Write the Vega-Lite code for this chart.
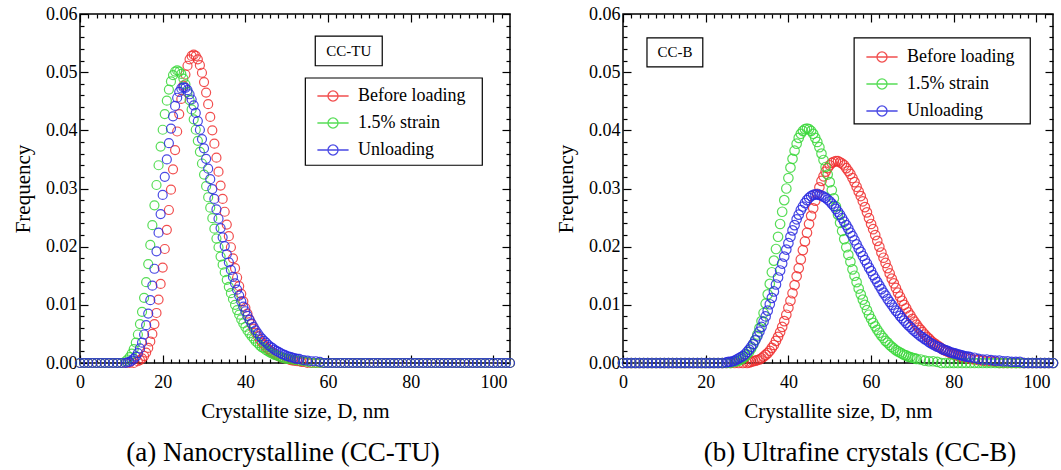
{
"$schema": "https://vega.github.io/schema/vega-lite/v6.json",
"padding": {"left": 11, "top": 4, "right": 0, "bottom": 0},
"spacing": 113,
"bounds": "flush",
"config": {
 "font": "Liberation Serif",
 "view": {"stroke": "black", "strokeWidth": 1.5},
 "axis": {"labelFont": "Liberation Serif", "titleFont": "Liberation Serif", "tickColor": "black", "labelColor": "black", "titleColor": "black", "domain": false, "grid": false},
 "legend": {"strokeColor": null, "padding": 0, "labelFont": "Liberation Serif", "labelFontSize": 18, "labelColor": "black", "symbolType": "M-1.3,0H1.3M0.42,0A0.42,0.42,0,1,1,-0.42,0A0.42,0.42,0,1,1,0.42,0", "symbolSize": 576, "symbolStrokeWidth": 1.3, "labelOffset": 12, "rowPadding": 5},
 "title": {"font": "Liberation Serif", "fontSize": 27, "fontWeight": "normal", "color": "black"}
},
"datasets": {
"a_r": [{"x":0,"y":0},{"x":1,"y":0},{"x":2,"y":0},{"x":3,"y":0},{"x":4,"y":0},{"x":5,"y":0},{"x":6,"y":0},{"x":7,"y":0},{"x":8,"y":0},{"x":9,"y":0},{"x":10,"y":0},{"x":11,"y":0},{"x":12,"y":0},{"x":13,"y":0},
{"x":14,"y":0.0003},{"x":14.5,"y":0.0005},{"x":15,"y":0.0008},{"x":15.5,"y":0.0012},{"x":16,"y":0.0018},{"x":16.5,"y":0.0026},{"x":17,"y":0.0037},{"x":17.5,"y":0.0050},{"x":18,"y":0.0067},{"x":18.5,"y":0.0086},{"x":19,"y":0.0109},{"x":19.5,"y":0.0136},{"x":20,"y":0.0164},{"x":20.5,"y":0.0196},{"x":21,"y":0.0229},{"x":21.5,"y":0.0263},{"x":22,"y":0.0298},{"x":22.5,"y":0.0333},{"x":23,"y":0.0366},{"x":23.5,"y":0.0398},{"x":24,"y":0.0428},{"x":24.5,"y":0.0454},{"x":25,"y":0.0477},{"x":25.5,"y":0.0496},{"x":26,"y":0.0511},{"x":26.5,"y":0.0522},{"x":27,"y":0.0528},{"x":27.5,"y":0.0530},{"x":28,"y":0.0528},{"x":28.5,"y":0.0522},{"x":29,"y":0.0512},{"x":29.5,"y":0.0499},{"x":30,"y":0.0483},{"x":30.5,"y":0.0465},{"x":31,"y":0.0445},{"x":31.5,"y":0.0423},{"x":32,"y":0.0400},{"x":32.5,"y":0.0377},{"x":33,"y":0.0353},{"x":33.5,"y":0.0329},{"x":34,"y":0.0305},{"x":34.5,"y":0.0282},{"x":35,"y":0.0260},{"x":35.5,"y":0.0238},{"x":36,"y":0.0218},{"x":36.5,"y":0.0199},{"x":37,"y":0.0180},{"x":37.5,"y":0.0163},{"x":38,"y":0.0147},{"x":38.5,"y":0.0132},{"x":39,"y":0.0119},{"x":39.5,"y":0.0106},{"x":40,"y":0.0095},{"x":40.5,"y":0.0085},{"x":41,"y":0.0075},{"x":41.5,"y":0.0067},{"x":42,"y":0.0059},{"x":42.5,"y":0.0052},{"x":43,"y":0.0046},{"x":43.5,"y":0.0040},{"x":44,"y":0.0035},{"x":44.5,"y":0.0031},{"x":45,"y":0.0027},{"x":45.5,"y":0.0024},{"x":46,"y":0.0021},{"x":46.5,"y":0.0018},{"x":47,"y":0.0016},{"x":47.5,"y":0.0014},{"x":48,"y":0.0012},{"x":48.5,"y":0.0010},{"x":49,"y":0.0009},{"x":49.5,"y":0.0008},{"x":50,"y":0.0007},{"x":50.5,"y":0.0006},{"x":51,"y":0.0005},{"x":51.5,"y":0.0004},{"x":52,"y":0.0004},{"x":52.5,"y":0.0003},{"x":53,"y":0.0003},{"x":53.5,"y":0.0002},{"x":54,"y":0.0002},
{"x":55,"y":0},{"x":56,"y":0},{"x":57,"y":0},{"x":58,"y":0},{"x":59,"y":0},{"x":60,"y":0},{"x":61,"y":0},{"x":62,"y":0},{"x":63,"y":0},{"x":64,"y":0},{"x":65,"y":0},{"x":66,"y":0},{"x":67,"y":0},{"x":68,"y":0},{"x":69,"y":0},{"x":70,"y":0},{"x":71,"y":0},{"x":72,"y":0},{"x":73,"y":0},{"x":74,"y":0},{"x":75,"y":0},{"x":76,"y":0},{"x":77,"y":0},{"x":78,"y":0},{"x":79,"y":0},{"x":80,"y":0},{"x":81,"y":0},{"x":82,"y":0},{"x":83,"y":0},{"x":84,"y":0},{"x":85,"y":0},{"x":86,"y":0},{"x":87,"y":0},{"x":88,"y":0},{"x":89,"y":0},{"x":90,"y":0},{"x":91,"y":0},{"x":92,"y":0},{"x":93,"y":0},{"x":94,"y":0},{"x":95,"y":0},{"x":96,"y":0},{"x":97,"y":0},{"x":98,"y":0},{"x":99,"y":0},{"x":100,"y":0},{"x":101,"y":0},{"x":102,"y":0},{"x":103,"y":0},{"x":104,"y":0}],
"a_g": [{"x":0,"y":0},{"x":1,"y":0},{"x":2,"y":0},{"x":3,"y":0},{"x":4,"y":0},{"x":5,"y":0},{"x":6,"y":0},{"x":7,"y":0},{"x":8,"y":0},{"x":9,"y":0},{"x":10,"y":0},
{"x":11,"y":0.0003},{"x":11.5,"y":0.0006},{"x":12,"y":0.0010},{"x":12.5,"y":0.0016},{"x":13,"y":0.0024},{"x":13.5,"y":0.0035},{"x":14,"y":0.0049},{"x":14.5,"y":0.0067},{"x":15,"y":0.0088},{"x":15.5,"y":0.0112},{"x":16,"y":0.0139},{"x":16.5,"y":0.0170},{"x":17,"y":0.0203},{"x":17.5,"y":0.0237},{"x":18,"y":0.0271},{"x":18.5,"y":0.0306},{"x":19,"y":0.0340},{"x":19.5,"y":0.0372},{"x":20,"y":0.0401},{"x":20.5,"y":0.0428},{"x":21,"y":0.0451},{"x":21.5,"y":0.0470},{"x":22,"y":0.0484},{"x":22.5,"y":0.0495},{"x":23,"y":0.0501},{"x":23.5,"y":0.0503},{"x":24,"y":0.0501},{"x":24.5,"y":0.0497},{"x":25,"y":0.0489},{"x":25.5,"y":0.0479},{"x":26,"y":0.0466},{"x":26.5,"y":0.0452},{"x":27,"y":0.0436},{"x":27.5,"y":0.0419},{"x":28,"y":0.0401},{"x":28.5,"y":0.0382},{"x":29,"y":0.0363},{"x":29.5,"y":0.0343},{"x":30,"y":0.0324},{"x":30.5,"y":0.0304},{"x":31,"y":0.0285},{"x":31.5,"y":0.0267},{"x":32,"y":0.0249},{"x":32.5,"y":0.0231},{"x":33,"y":0.0214},{"x":33.5,"y":0.0199},{"x":34,"y":0.0183},{"x":34.5,"y":0.0169},{"x":35,"y":0.0156},{"x":35.5,"y":0.0143},{"x":36,"y":0.0131},{"x":36.5,"y":0.0120},{"x":37,"y":0.0110},{"x":37.5,"y":0.0100},{"x":38,"y":0.0091},{"x":38.5,"y":0.0083},{"x":39,"y":0.0075},{"x":39.5,"y":0.0068},{"x":40,"y":0.0062},{"x":40.5,"y":0.0056},{"x":41,"y":0.0051},{"x":41.5,"y":0.0046},{"x":42,"y":0.0042},{"x":42.5,"y":0.0037},{"x":43,"y":0.0034},{"x":43.5,"y":0.0030},{"x":44,"y":0.0027},{"x":44.5,"y":0.0025},{"x":45,"y":0.0022},{"x":45.5,"y":0.0020},{"x":46,"y":0.0018},{"x":46.5,"y":0.0016},{"x":47,"y":0.0014},{"x":47.5,"y":0.0013},{"x":48,"y":0.0012},{"x":48.5,"y":0.0010},{"x":49,"y":0.0009},{"x":49.5,"y":0.0008},{"x":50,"y":0.0007},{"x":50.5,"y":0.0007},{"x":51,"y":0.0006},{"x":52,"y":0.0005},{"x":53,"y":0.0004},{"x":54,"y":0.0003},{"x":55,"y":0.0002},
{"x":56,"y":0},{"x":57,"y":0},{"x":58,"y":0},{"x":59,"y":0},{"x":60,"y":0},{"x":61,"y":0},{"x":62,"y":0},{"x":63,"y":0},{"x":64,"y":0},{"x":65,"y":0},{"x":66,"y":0},{"x":67,"y":0},{"x":68,"y":0},{"x":69,"y":0},{"x":70,"y":0},{"x":71,"y":0},{"x":72,"y":0},{"x":73,"y":0},{"x":74,"y":0},{"x":75,"y":0},{"x":76,"y":0},{"x":77,"y":0},{"x":78,"y":0},{"x":79,"y":0},{"x":80,"y":0},{"x":81,"y":0},{"x":82,"y":0},{"x":83,"y":0},{"x":84,"y":0},{"x":85,"y":0},{"x":86,"y":0},{"x":87,"y":0},{"x":88,"y":0},{"x":89,"y":0},{"x":90,"y":0},{"x":91,"y":0},{"x":92,"y":0},{"x":93,"y":0},{"x":94,"y":0},{"x":95,"y":0},{"x":96,"y":0},{"x":97,"y":0},{"x":98,"y":0},{"x":99,"y":0},{"x":100,"y":0},{"x":101,"y":0},{"x":102,"y":0},{"x":103,"y":0},{"x":104,"y":0}],
"a_b": [{"x":0,"y":0},{"x":1,"y":0},{"x":2,"y":0},{"x":3,"y":0},{"x":4,"y":0},{"x":5,"y":0},{"x":6,"y":0},{"x":7,"y":0},{"x":8,"y":0},{"x":9,"y":0},{"x":10,"y":0},{"x":11,"y":0},
{"x":11.5,"y":0.0001},{"x":12,"y":0.0002},{"x":12.5,"y":0.0004},{"x":13,"y":0.0007},{"x":13.5,"y":0.0011},{"x":14,"y":0.0017},{"x":14.5,"y":0.0025},{"x":15,"y":0.0035},{"x":15.5,"y":0.0049},{"x":16,"y":0.0065},{"x":16.5,"y":0.0085},{"x":17,"y":0.0108},{"x":17.5,"y":0.0133},{"x":18,"y":0.0162},{"x":18.5,"y":0.0192},{"x":19,"y":0.0224},{"x":19.5,"y":0.0256},{"x":20,"y":0.0289},{"x":20.5,"y":0.0320},{"x":21,"y":0.0350},{"x":21.5,"y":0.0378},{"x":22,"y":0.0403},{"x":22.5,"y":0.0424},{"x":23,"y":0.0442},{"x":23.5,"y":0.0456},{"x":24,"y":0.0466},{"x":24.5,"y":0.0472},{"x":25,"y":0.0474},{"x":25.5,"y":0.0473},{"x":26,"y":0.0469},{"x":26.5,"y":0.0462},{"x":27,"y":0.0453},{"x":27.5,"y":0.0443},{"x":28,"y":0.0430},{"x":28.5,"y":0.0416},{"x":29,"y":0.0401},{"x":29.5,"y":0.0385},{"x":30,"y":0.0369},{"x":30.5,"y":0.0351},{"x":31,"y":0.0334},{"x":31.5,"y":0.0316},{"x":32,"y":0.0299},{"x":32.5,"y":0.0282},{"x":33,"y":0.0264},{"x":33.5,"y":0.0248},{"x":34,"y":0.0232},{"x":34.5,"y":0.0216},{"x":35,"y":0.0201},{"x":35.5,"y":0.0187},{"x":36,"y":0.0173},{"x":36.5,"y":0.0160},{"x":37,"y":0.0148},{"x":37.5,"y":0.0137},{"x":38,"y":0.0126},{"x":38.5,"y":0.0116},{"x":39,"y":0.0106},{"x":39.5,"y":0.0097},{"x":40,"y":0.0089},{"x":40.5,"y":0.0081},{"x":41,"y":0.0074},{"x":41.5,"y":0.0068},{"x":42,"y":0.0062},{"x":42.5,"y":0.0056},{"x":43,"y":0.0051},{"x":43.5,"y":0.0046},{"x":44,"y":0.0042},{"x":44.5,"y":0.0038},{"x":45,"y":0.0035},{"x":45.5,"y":0.0031},{"x":46,"y":0.0028},{"x":46.5,"y":0.0026},{"x":47,"y":0.0023},{"x":47.5,"y":0.0021},{"x":48,"y":0.0019},{"x":48.5,"y":0.0017},{"x":49,"y":0.0015},{"x":49.5,"y":0.0014},{"x":50,"y":0.0012},{"x":50.5,"y":0.0011},{"x":51,"y":0.0010},{"x":51.5,"y":0.0009},{"x":52,"y":0.0008},{"x":52.5,"y":0.0007},{"x":53,"y":0.0007},{"x":54,"y":0.0005},{"x":55,"y":0.0004},{"x":56,"y":0.0003},{"x":57,"y":0.0003},{"x":58,"y":0.0002},
{"x":59,"y":0},{"x":60,"y":0},{"x":61,"y":0},{"x":62,"y":0},{"x":63,"y":0},{"x":64,"y":0},{"x":65,"y":0},{"x":66,"y":0},{"x":67,"y":0},{"x":68,"y":0},{"x":69,"y":0},{"x":70,"y":0},{"x":71,"y":0},{"x":72,"y":0},{"x":73,"y":0},{"x":74,"y":0},{"x":75,"y":0},{"x":76,"y":0},{"x":77,"y":0},{"x":78,"y":0},{"x":79,"y":0},{"x":80,"y":0},{"x":81,"y":0},{"x":82,"y":0},{"x":83,"y":0},{"x":84,"y":0},{"x":85,"y":0},{"x":86,"y":0},{"x":87,"y":0},{"x":88,"y":0},{"x":89,"y":0},{"x":90,"y":0},{"x":91,"y":0},{"x":92,"y":0},{"x":93,"y":0},{"x":94,"y":0},{"x":95,"y":0},{"x":96,"y":0},{"x":97,"y":0},{"x":98,"y":0},{"x":99,"y":0},{"x":100,"y":0},{"x":101,"y":0},{"x":102,"y":0},{"x":103,"y":0},{"x":104,"y":0}],
"b_r": [{"x":0,"y":0},{"x":1,"y":0},{"x":2,"y":0},{"x":3,"y":0},{"x":4,"y":0},{"x":5,"y":0},{"x":6,"y":0},{"x":7,"y":0},{"x":8,"y":0},{"x":9,"y":0},{"x":10,"y":0},{"x":11,"y":0},{"x":12,"y":0},{"x":13,"y":0},{"x":14,"y":0},{"x":15,"y":0},{"x":16,"y":0},{"x":17,"y":0},{"x":18,"y":0},{"x":19,"y":0},{"x":20,"y":0},{"x":21,"y":0},{"x":22,"y":0},{"x":23,"y":0},{"x":24,"y":0},{"x":25,"y":0},{"x":26,"y":0},{"x":27,"y":0},{"x":28,"y":0},{"x":29,"y":0},{"x":30,"y":0},
{"x":30.5,"y":0.0001},{"x":31,"y":0.0002},{"x":31.5,"y":0.0003},{"x":32,"y":0.0004},{"x":32.5,"y":0.0005},{"x":33,"y":0.0006},{"x":33.5,"y":0.0008},{"x":34,"y":0.0011},{"x":34.5,"y":0.0014},{"x":35,"y":0.0017},{"x":35.5,"y":0.0021},{"x":36,"y":0.0026},{"x":36.5,"y":0.0031},{"x":37,"y":0.0038},{"x":37.5,"y":0.0045},{"x":38,"y":0.0053},{"x":38.5,"y":0.0062},{"x":39,"y":0.0072},{"x":39.5,"y":0.0083},{"x":40,"y":0.0095},{"x":40.5,"y":0.0107},{"x":41,"y":0.0120},{"x":41.5,"y":0.0134},{"x":42,"y":0.0149},{"x":42.5,"y":0.0163},{"x":43,"y":0.0178},{"x":43.5,"y":0.0194},{"x":44,"y":0.0209},{"x":44.5,"y":0.0224},{"x":45,"y":0.0239},{"x":45.5,"y":0.0253},{"x":46,"y":0.0266},{"x":46.5,"y":0.0279},{"x":47,"y":0.0291},{"x":47.5,"y":0.0302},{"x":48,"y":0.0313},{"x":48.5,"y":0.0321},{"x":49,"y":0.0329},{"x":49.5,"y":0.0335},{"x":50,"y":0.0340},{"x":50.5,"y":0.0344},{"x":51,"y":0.0346},{"x":51.5,"y":0.0347},{"x":52,"y":0.0347},{"x":52.5,"y":0.0345},{"x":53,"y":0.0343},{"x":53.5,"y":0.0340},{"x":54,"y":0.0335},{"x":54.5,"y":0.0330},{"x":55,"y":0.0325},{"x":55.5,"y":0.0318},{"x":56,"y":0.0311},{"x":56.5,"y":0.0303},{"x":57,"y":0.0295},{"x":57.5,"y":0.0287},{"x":58,"y":0.0278},{"x":58.5,"y":0.0268},{"x":59,"y":0.0259},{"x":59.5,"y":0.0249},{"x":60,"y":0.0239},{"x":60.5,"y":0.0230},{"x":61,"y":0.0220},{"x":61.5,"y":0.0210},{"x":62,"y":0.0200},{"x":62.5,"y":0.0190},{"x":63,"y":0.0181},{"x":63.5,"y":0.0172},{"x":64,"y":0.0163},{"x":64.5,"y":0.0154},{"x":65,"y":0.0145},{"x":65.5,"y":0.0137},{"x":66,"y":0.0129},{"x":66.5,"y":0.0121},{"x":67,"y":0.0114},{"x":67.5,"y":0.0107},{"x":68,"y":0.0100},{"x":68.5,"y":0.0094},{"x":69,"y":0.0087},{"x":69.5,"y":0.0082},{"x":70,"y":0.0076},{"x":70.5,"y":0.0071},{"x":71,"y":0.0066},{"x":71.5,"y":0.0061},{"x":72,"y":0.0057},{"x":72.5,"y":0.0053},{"x":73,"y":0.0049},{"x":73.5,"y":0.0045},{"x":74,"y":0.0042},{"x":74.5,"y":0.0038},{"x":75,"y":0.0035},{"x":75.5,"y":0.0033},{"x":76,"y":0.0030},{"x":76.5,"y":0.0028},{"x":77,"y":0.0025},{"x":77.5,"y":0.0023},{"x":78,"y":0.0021},{"x":78.5,"y":0.0020},{"x":79,"y":0.0018},{"x":79.5,"y":0.0016},{"x":80,"y":0.0015},{"x":80.5,"y":0.0014},{"x":81,"y":0.0013},{"x":81.5,"y":0.0011},{"x":82,"y":0.0010},{"x":83,"y":0.0009},{"x":84,"y":0.0007},{"x":85,"y":0.0006},{"x":86,"y":0.0005},{"x":87,"y":0.0004},{"x":88,"y":0.0003},{"x":89,"y":0.0003},{"x":90,"y":0.0002},
{"x":91,"y":0},{"x":92,"y":0},{"x":93,"y":0},{"x":94,"y":0},{"x":95,"y":0},{"x":96,"y":0},{"x":97,"y":0},{"x":98,"y":0},{"x":99,"y":0},{"x":100,"y":0},{"x":101,"y":0},{"x":102,"y":0},{"x":103,"y":0},{"x":104,"y":0}],
"b_g": [{"x":0,"y":0},{"x":1,"y":0},{"x":2,"y":0},{"x":3,"y":0},{"x":4,"y":0},{"x":5,"y":0},{"x":6,"y":0},{"x":7,"y":0},{"x":8,"y":0},{"x":9,"y":0},{"x":10,"y":0},{"x":11,"y":0},{"x":12,"y":0},{"x":13,"y":0},{"x":14,"y":0},{"x":15,"y":0},{"x":16,"y":0},{"x":17,"y":0},{"x":18,"y":0},{"x":19,"y":0},{"x":20,"y":0},{"x":21,"y":0},{"x":22,"y":0},{"x":23,"y":0},{"x":24,"y":0},{"x":25,"y":0},{"x":26,"y":0},
{"x":27,"y":0.0002},{"x":27.5,"y":0.0003},{"x":28,"y":0.0004},{"x":28.5,"y":0.0006},{"x":29,"y":0.0008},{"x":29.5,"y":0.0011},{"x":30,"y":0.0015},{"x":30.5,"y":0.0019},{"x":31,"y":0.0025},{"x":31.5,"y":0.0032},{"x":32,"y":0.0040},{"x":32.5,"y":0.0049},{"x":33,"y":0.0060},{"x":33.5,"y":0.0072},{"x":34,"y":0.0086},{"x":34.5,"y":0.0102},{"x":35,"y":0.0118},{"x":35.5,"y":0.0136},{"x":36,"y":0.0156},{"x":36.5,"y":0.0176},{"x":37,"y":0.0196},{"x":37.5,"y":0.0217},{"x":38,"y":0.0239},{"x":38.5,"y":0.0260},{"x":39,"y":0.0280},{"x":39.5,"y":0.0300},{"x":40,"y":0.0318},{"x":40.5,"y":0.0336},{"x":41,"y":0.0351},{"x":41.5,"y":0.0365},{"x":42,"y":0.0377},{"x":42.5,"y":0.0387},{"x":43,"y":0.0394},{"x":43.5,"y":0.0399},{"x":44,"y":0.0402},{"x":44.5,"y":0.0403},{"x":45,"y":0.0402},{"x":45.5,"y":0.0399},{"x":46,"y":0.0394},{"x":46.5,"y":0.0387},{"x":47,"y":0.0380},{"x":47.5,"y":0.0371},{"x":48,"y":0.0360},{"x":48.5,"y":0.0349},{"x":49,"y":0.0337},{"x":49.5,"y":0.0324},{"x":50,"y":0.0311},{"x":50.5,"y":0.0297},{"x":51,"y":0.0283},{"x":51.5,"y":0.0269},{"x":52,"y":0.0255},{"x":52.5,"y":0.0241},{"x":53,"y":0.0227},{"x":53.5,"y":0.0213},{"x":54,"y":0.0199},{"x":54.5,"y":0.0186},{"x":55,"y":0.0174},{"x":55.5,"y":0.0161},{"x":56,"y":0.0150},{"x":56.5,"y":0.0139},{"x":57,"y":0.0128},{"x":57.5,"y":0.0118},{"x":58,"y":0.0109},{"x":58.5,"y":0.0100},{"x":59,"y":0.0091},{"x":59.5,"y":0.0083},{"x":60,"y":0.0076},{"x":60.5,"y":0.0069},{"x":61,"y":0.0063},{"x":61.5,"y":0.0057},{"x":62,"y":0.0052},{"x":62.5,"y":0.0047},{"x":63,"y":0.0043},{"x":63.5,"y":0.0038},{"x":64,"y":0.0035},{"x":64.5,"y":0.0031},{"x":65,"y":0.0028},{"x":65.5,"y":0.0025},{"x":66,"y":0.0022},{"x":66.5,"y":0.0020},{"x":67,"y":0.0018},{"x":67.5,"y":0.0016},{"x":68,"y":0.0014},{"x":68.5,"y":0.0013},{"x":69,"y":0.0011},{"x":69.5,"y":0.0010},{"x":70,"y":0.0009},{"x":70.5,"y":0.0008},{"x":71,"y":0.0007},{"x":72,"y":0.0006},{"x":73,"y":0.0004},{"x":74,"y":0.0003},{"x":75,"y":0.0003},{"x":76,"y":0.0002},
{"x":77,"y":0},{"x":78,"y":0},{"x":79,"y":0},{"x":80,"y":0},{"x":81,"y":0},{"x":82,"y":0},{"x":83,"y":0},{"x":84,"y":0},{"x":85,"y":0},{"x":86,"y":0},{"x":87,"y":0},{"x":88,"y":0},{"x":89,"y":0},{"x":90,"y":0},{"x":91,"y":0},{"x":92,"y":0},{"x":93,"y":0},{"x":94,"y":0},{"x":95,"y":0},{"x":96,"y":0},{"x":97,"y":0},{"x":98,"y":0},{"x":99,"y":0},{"x":100,"y":0},{"x":101,"y":0},{"x":102,"y":0},{"x":103,"y":0},{"x":104,"y":0}],
"b_b": [{"x":0,"y":0},{"x":1,"y":0},{"x":2,"y":0},{"x":3,"y":0},{"x":4,"y":0},{"x":5,"y":0},{"x":6,"y":0},{"x":7,"y":0},{"x":8,"y":0},{"x":9,"y":0},{"x":10,"y":0},{"x":11,"y":0},{"x":12,"y":0},{"x":13,"y":0},{"x":14,"y":0},{"x":15,"y":0},{"x":16,"y":0},{"x":17,"y":0},{"x":18,"y":0},{"x":19,"y":0},{"x":20,"y":0},{"x":21,"y":0},{"x":22,"y":0},{"x":23,"y":0},{"x":24,"y":0},
{"x":25,"y":0.0001},{"x":25.5,"y":0.0002},{"x":26,"y":0.0002},{"x":26.5,"y":0.0003},{"x":27,"y":0.0004},{"x":27.5,"y":0.0006},{"x":28,"y":0.0008},{"x":28.5,"y":0.0010},{"x":29,"y":0.0012},{"x":29.5,"y":0.0015},{"x":30,"y":0.0019},{"x":30.5,"y":0.0023},{"x":31,"y":0.0028},{"x":31.5,"y":0.0033},{"x":32,"y":0.0039},{"x":32.5,"y":0.0046},{"x":33,"y":0.0054},{"x":33.5,"y":0.0062},{"x":34,"y":0.0071},{"x":34.5,"y":0.0080},{"x":35,"y":0.0090},{"x":35.5,"y":0.0101},{"x":36,"y":0.0112},{"x":36.5,"y":0.0123},{"x":37,"y":0.0135},{"x":37.5,"y":0.0147},{"x":38,"y":0.0159},{"x":38.5,"y":0.0171},{"x":39,"y":0.0183},{"x":39.5,"y":0.0195},{"x":40,"y":0.0206},{"x":40.5,"y":0.0217},{"x":41,"y":0.0228},{"x":41.5,"y":0.0237},{"x":42,"y":0.0247},{"x":42.5,"y":0.0255},{"x":43,"y":0.0263},{"x":43.5,"y":0.0269},{"x":44,"y":0.0275},{"x":44.5,"y":0.0280},{"x":45,"y":0.0284},{"x":45.5,"y":0.0287},{"x":46,"y":0.0289},{"x":46.5,"y":0.0290},{"x":47,"y":0.0290},{"x":47.5,"y":0.0289},{"x":48,"y":0.0288},{"x":48.5,"y":0.0286},{"x":49,"y":0.0284},{"x":49.5,"y":0.0281},{"x":50,"y":0.0278},{"x":50.5,"y":0.0274},{"x":51,"y":0.0270},{"x":51.5,"y":0.0265},{"x":52,"y":0.0260},{"x":52.5,"y":0.0255},{"x":53,"y":0.0249},{"x":53.5,"y":0.0243},{"x":54,"y":0.0237},{"x":54.5,"y":0.0231},{"x":55,"y":0.0224},{"x":55.5,"y":0.0218},{"x":56,"y":0.0211},{"x":56.5,"y":0.0204},{"x":57,"y":0.0197},{"x":57.5,"y":0.0191},{"x":58,"y":0.0184},{"x":58.5,"y":0.0177},{"x":59,"y":0.0171},{"x":59.5,"y":0.0164},{"x":60,"y":0.0158},{"x":60.5,"y":0.0151},{"x":61,"y":0.0145},{"x":61.5,"y":0.0139},{"x":62,"y":0.0133},{"x":62.5,"y":0.0127},{"x":63,"y":0.0121},{"x":63.5,"y":0.0116},{"x":64,"y":0.0110},{"x":64.5,"y":0.0105},{"x":65,"y":0.0100},{"x":65.5,"y":0.0095},{"x":66,"y":0.0090},{"x":66.5,"y":0.0086},{"x":67,"y":0.0081},{"x":67.5,"y":0.0077},{"x":68,"y":0.0073},{"x":68.5,"y":0.0069},{"x":69,"y":0.0065},{"x":69.5,"y":0.0062},{"x":70,"y":0.0058},{"x":70.5,"y":0.0055},{"x":71,"y":0.0052},{"x":71.5,"y":0.0049},{"x":72,"y":0.0046},{"x":72.5,"y":0.0044},{"x":73,"y":0.0041},{"x":73.5,"y":0.0039},{"x":74,"y":0.0036},{"x":74.5,"y":0.0034},{"x":75,"y":0.0032},{"x":75.5,"y":0.0030},{"x":76,"y":0.0028},{"x":76.5,"y":0.0027},{"x":77,"y":0.0025},{"x":77.5,"y":0.0023},{"x":78,"y":0.0022},{"x":78.5,"y":0.0021},{"x":79,"y":0.0019},{"x":79.5,"y":0.0018},{"x":80,"y":0.0017},{"x":80.5,"y":0.0016},{"x":81,"y":0.0015},{"x":81.5,"y":0.0014},{"x":82,"y":0.0013},{"x":82.5,"y":0.0012},{"x":83,"y":0.0011},{"x":83.5,"y":0.0011},{"x":84,"y":0.0010},{"x":85,"y":0.0009},{"x":86,"y":0.0007},{"x":87,"y":0.0006},{"x":88,"y":0.0006},{"x":89,"y":0.0005},{"x":90,"y":0.0004},{"x":91,"y":0.0004},{"x":92,"y":0.0003},{"x":93,"y":0.0003},{"x":94,"y":0.0002},{"x":95,"y":0.0002},{"x":96,"y":0.0002},
{"x":97,"y":0},{"x":98,"y":0},{"x":99,"y":0},{"x":100,"y":0},{"x":101,"y":0},{"x":102,"y":0},{"x":103,"y":0},{"x":104,"y":0}]
},
"hconcat": [
{
 "width": 430, "height": 349,
 "title": {"text": "(a) Nanocrystalline (CC-TU)", "orient": "bottom", "offset": 19, "dx": -12},
 "layer": [
  {"data": {"name": "a_r"}, "mark": {"type": "point", "shape": "circle", "filled": false, "size": 81, "strokeWidth": 1.2, "opacity": 0.85},
   "encoding": {
    "x": {"field": "x", "type": "quantitative", "scale": {"domain": [0, 104], "nice": false, "zero": false}, "axis": {"orient": "bottom", "tickColor": "black", "tickWidth": 1.2, "values": [0,20,40,60,80,100], "format": "d", "tickSize": -8, "labelPadding": 18, "labelFont": "Liberation Serif", "labelFontSize": 18, "labelColor": "black", "labelFlush": false, "labelOverlap": false, "title": "Crystallite size, D, nm", "titleFont": "Liberation Serif", "titleFontSize": 21, "titleFontWeight": "normal", "titleColor": "black", "titlePadding": 9}},
    "y": {"field": "y", "type": "quantitative", "scale": {"domain": [0, 0.06], "nice": false}, "axis": {"orient": "left", "tickColor": "black", "tickWidth": 1.2, "values": [0,0.01,0.02,0.03,0.04,0.05,0.06], "format": ".2f", "tickSize": -8, "labelPadding": 11, "labelFont": "Liberation Serif", "labelFontSize": 18, "labelColor": "black", "labelFlush": false, "labelOverlap": false, "title": "Frequency", "titleFont": "Liberation Serif", "titleFontSize": 21, "titleFontWeight": "normal", "titleColor": "black", "titlePadding": 12}},
    "color": {"datum": "Before loading", "type": "nominal", "scale": {"domain": ["Before loading", "1.5% strain", "Unloading"], "range": ["#f03030", "#3ad83a", "#2a2ae0"]}, "legend": {"orient": "none", "legendX": 240, "legendY": 69, "title": null}}
   }},
  {"data": {"name": "a_g"}, "mark": {"type": "point", "shape": "circle", "filled": false, "size": 81, "strokeWidth": 1.2, "opacity": 0.85},
   "encoding": {
    "x": {"field": "x", "type": "quantitative", "scale": {"domain": [0, 104], "nice": false, "zero": false}, "axis": {"orient": "bottom", "tickColor": "black", "tickWidth": 1.2, "values": [2,4,6,8,10,12,14,16,18,22,24,26,28,30,32,34,36,38,42,44,46,48,50,52,54,56,58,62,64,66,68,70,72,74,76,78,82,84,86,88,90,92,94,96,98,102], "tickSize": -4, "labels": false, "title": null}},
    "y": {"field": "y", "type": "quantitative", "scale": {"domain": [0, 0.06], "nice": false}, "axis": {"orient": "left", "tickColor": "black", "tickWidth": 1.2, "values": [0.002,0.004,0.006,0.008,0.012,0.014,0.016,0.018,0.022,0.024,0.026,0.028,0.032,0.034,0.036,0.038,0.042,0.044,0.046,0.048,0.052,0.054,0.056,0.058], "tickSize": -4, "labels": false, "title": null}},
    "color": {"datum": "1.5% strain", "type": "nominal", "scale": {"domain": ["Before loading", "1.5% strain", "Unloading"], "range": ["#f03030", "#3ad83a", "#2a2ae0"]}}
   }},
  {"data": {"name": "a_b"}, "mark": {"type": "point", "shape": "circle", "filled": false, "size": 81, "strokeWidth": 1.2, "opacity": 0.85},
   "encoding": {
    "x": {"field": "x", "type": "quantitative", "scale": {"domain": [0, 104], "nice": false, "zero": false}, "axis": {"orient": "top", "tickColor": "black", "tickWidth": 1.2, "values": [0,20,40,60,80,100], "tickSize": -8, "labels": false, "title": null}},
    "y": {"field": "y", "type": "quantitative", "scale": {"domain": [0, 0.06], "nice": false}, "axis": {"orient": "right", "tickColor": "black", "tickWidth": 1.2, "values": [0,0.01,0.02,0.03,0.04,0.05,0.06], "tickSize": -8, "labels": false, "title": null}},
    "color": {"datum": "Unloading", "type": "nominal", "scale": {"domain": ["Before loading", "1.5% strain", "Unloading"], "range": ["#f03030", "#3ad83a", "#2a2ae0"]}}
   }},
  {"data": {"values": [{"t": "CC-TU"}]}, "mark": {"type": "rect", "fill": "white", "stroke": "black", "strokeWidth": 1.2},
   "encoding": {
    "x": {"datum": 56.9, "type": "quantitative", "scale": {"domain": [0, 104], "nice": false, "zero": false}, "axis": {"orient": "top", "tickColor": "black", "tickWidth": 1.2, "values": [2,4,6,8,10,12,14,16,18,22,24,26,28,30,32,34,36,38,42,44,46,48,50,52,54,56,58,62,64,66,68,70,72,74,76,78,82,84,86,88,90,92,94,96,98,102], "tickSize": -4, "labels": false, "title": null}},
    "x2": {"datum": 73.1},
    "y": {"datum": 0.0511, "type": "quantitative", "scale": {"domain": [0, 0.06], "nice": false}, "axis": {"orient": "right", "tickColor": "black", "tickWidth": 1.2, "values": [0.002,0.004,0.006,0.008,0.012,0.014,0.016,0.018,0.022,0.024,0.026,0.028,0.032,0.034,0.036,0.038,0.042,0.044,0.046,0.048,0.052,0.054,0.056,0.058], "tickSize": -4, "labels": false, "title": null}},
    "y2": {"datum": 0.0562}
   }},
  {"data": {"values": [{"t": "legend"}]}, "mark": {"type": "rect", "fill": "white", "stroke": "black", "strokeWidth": 1.2},
   "encoding": {
    "x": {"datum": 54.5, "type": "quantitative", "axis": null},
    "x2": {"datum": 97.3},
    "y": {"datum": 0.0340, "type": "quantitative", "axis": null},
    "y2": {"datum": 0.0490}
   }},
  {"data": {"values": [{"t": "CC-TU"}]}, "mark": {"type": "text", "font": "Liberation Serif", "fontSize": 15, "color": "black"},
   "encoding": {
    "x": {"datum": 65, "type": "quantitative", "axis": null},
    "y": {"datum": 0.0537, "type": "quantitative", "axis": null},
    "text": {"field": "t"}
   }}
 ],
 "resolve": {"axis": {"x": "independent", "y": "independent"}}
},
{
 "width": 430, "height": 349,
 "title": {"text": "(b) Ultrafine crystals (CC-B)", "orient": "bottom", "offset": 19, "dx": 22},
 "layer": [
  {"data": {"name": "b_r"}, "mark": {"type": "point", "shape": "circle", "filled": false, "size": 90, "strokeWidth": 1.2, "opacity": 0.85},
   "encoding": {
    "x": {"field": "x", "type": "quantitative", "scale": {"domain": [0, 104], "nice": false, "zero": false}, "axis": {"orient": "bottom", "tickColor": "black", "tickWidth": 1.2, "values": [0,20,40,60,80,100], "format": "d", "tickSize": -8, "labelPadding": 18, "labelFont": "Liberation Serif", "labelFontSize": 18, "labelColor": "black", "labelFlush": false, "labelOverlap": false, "title": "Crystallite size, D, nm", "titleFont": "Liberation Serif", "titleFontSize": 21, "titleFontWeight": "normal", "titleColor": "black", "titlePadding": 9}},
    "y": {"field": "y", "type": "quantitative", "scale": {"domain": [0, 0.06], "nice": false}, "axis": {"orient": "left", "tickColor": "black", "tickWidth": 1.2, "values": [0,0.01,0.02,0.03,0.04,0.05,0.06], "format": ".2f", "tickSize": -8, "labelPadding": 11, "labelFont": "Liberation Serif", "labelFontSize": 18, "labelColor": "black", "labelFlush": false, "labelOverlap": false, "title": "Frequency", "titleFont": "Liberation Serif", "titleFontSize": 21, "titleFontWeight": "normal", "titleColor": "black", "titlePadding": 12}},
    "color": {"datum": "Before loading", "type": "nominal", "scale": {"domain": ["Before loading", "1.5% strain", "Unloading"], "range": ["#f03030", "#3ad83a", "#2a2ae0"]}, "legend": {"orient": "none", "legendX": 246, "legendY": 30, "title": null}}
   }},
  {"data": {"name": "b_g"}, "mark": {"type": "point", "shape": "circle", "filled": false, "size": 90, "strokeWidth": 1.2, "opacity": 0.85},
   "encoding": {
    "x": {"field": "x", "type": "quantitative", "scale": {"domain": [0, 104], "nice": false, "zero": false}, "axis": {"orient": "bottom", "tickColor": "black", "tickWidth": 1.2, "values": [2,4,6,8,10,12,14,16,18,22,24,26,28,30,32,34,36,38,42,44,46,48,50,52,54,56,58,62,64,66,68,70,72,74,76,78,82,84,86,88,90,92,94,96,98,102], "tickSize": -4, "labels": false, "title": null}},
    "y": {"field": "y", "type": "quantitative", "scale": {"domain": [0, 0.06], "nice": false}, "axis": {"orient": "left", "tickColor": "black", "tickWidth": 1.2, "values": [0.002,0.004,0.006,0.008,0.012,0.014,0.016,0.018,0.022,0.024,0.026,0.028,0.032,0.034,0.036,0.038,0.042,0.044,0.046,0.048,0.052,0.054,0.056,0.058], "tickSize": -4, "labels": false, "title": null}},
    "color": {"datum": "1.5% strain", "type": "nominal", "scale": {"domain": ["Before loading", "1.5% strain", "Unloading"], "range": ["#f03030", "#3ad83a", "#2a2ae0"]}}
   }},
  {"data": {"name": "b_b"}, "mark": {"type": "point", "shape": "circle", "filled": false, "size": 90, "strokeWidth": 1.2, "opacity": 0.85},
   "encoding": {
    "x": {"field": "x", "type": "quantitative", "scale": {"domain": [0, 104], "nice": false, "zero": false}, "axis": {"orient": "top", "tickColor": "black", "tickWidth": 1.2, "values": [0,20,40,60,80,100], "tickSize": -8, "labels": false, "title": null}},
    "y": {"field": "y", "type": "quantitative", "scale": {"domain": [0, 0.06], "nice": false}, "axis": {"orient": "right", "tickColor": "black", "tickWidth": 1.2, "values": [0,0.01,0.02,0.03,0.04,0.05,0.06], "tickSize": -8, "labels": false, "title": null}},
    "color": {"datum": "Unloading", "type": "nominal", "scale": {"domain": ["Before loading", "1.5% strain", "Unloading"], "range": ["#f03030", "#3ad83a", "#2a2ae0"]}}
   }},
  {"data": {"values": [{"t": "CC-B"}]}, "mark": {"type": "rect", "fill": "white", "stroke": "black", "strokeWidth": 1.2},
   "encoding": {
    "x": {"datum": 5.8, "type": "quantitative", "scale": {"domain": [0, 104], "nice": false, "zero": false}, "axis": {"orient": "top", "tickColor": "black", "tickWidth": 1.2, "values": [2,4,6,8,10,12,14,16,18,22,24,26,28,30,32,34,36,38,42,44,46,48,50,52,54,56,58,62,64,66,68,70,72,74,76,78,82,84,86,88,90,92,94,96,98,102], "tickSize": -4, "labels": false, "title": null}},
    "x2": {"datum": 19.3},
    "y": {"datum": 0.0509, "type": "quantitative", "scale": {"domain": [0, 0.06], "nice": false}, "axis": {"orient": "right", "tickColor": "black", "tickWidth": 1.2, "values": [0.002,0.004,0.006,0.008,0.012,0.014,0.016,0.018,0.022,0.024,0.026,0.028,0.032,0.034,0.036,0.038,0.042,0.044,0.046,0.048,0.052,0.054,0.056,0.058], "tickSize": -4, "labels": false, "title": null}},
    "y2": {"datum": 0.0559}
   }},
  {"data": {"values": [{"t": "legend"}]}, "mark": {"type": "rect", "fill": "white", "stroke": "black", "strokeWidth": 1.2},
   "encoding": {
    "x": {"datum": 55.9, "type": "quantitative", "axis": null},
    "x2": {"datum": 98.5},
    "y": {"datum": 0.0411, "type": "quantitative", "axis": null},
    "y2": {"datum": 0.0559}
   }},
  {"data": {"values": [{"t": "CC-B"}]}, "mark": {"type": "text", "font": "Liberation Serif", "fontSize": 15, "color": "black"},
   "encoding": {
    "x": {"datum": 12.55, "type": "quantitative", "axis": null},
    "y": {"datum": 0.0534, "type": "quantitative", "axis": null},
    "text": {"field": "t"}
   }}
 ],
 "resolve": {"axis": {"x": "independent", "y": "independent"}}
}
],
"resolve": {"scale": {"color": "independent"}, "legend": {"color": "independent"}}
}
